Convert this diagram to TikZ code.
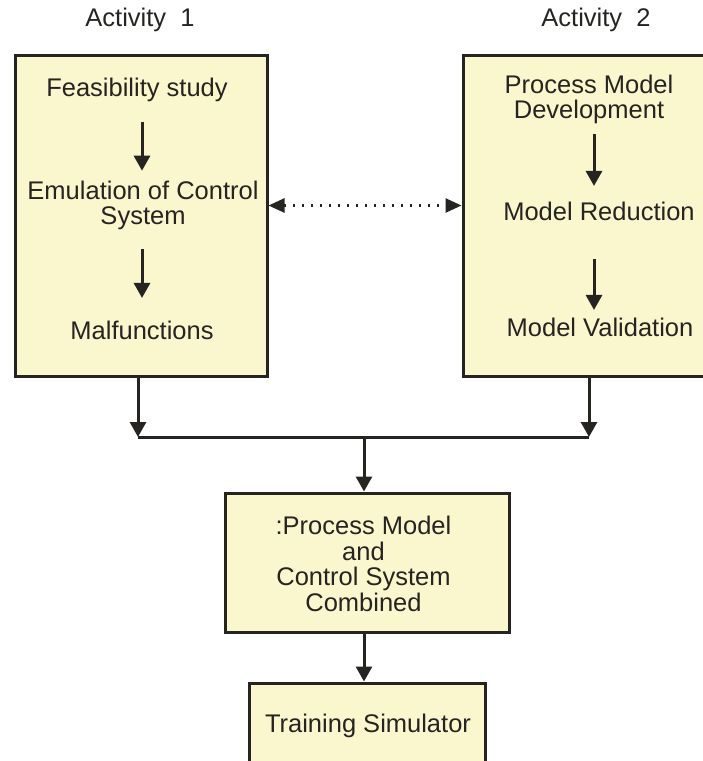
\documentclass[tikz,border=0pt]{standalone}
\usepackage{fontspec}
\setmainfont{Liberation Sans}
\usetikzlibrary{arrows.meta}
\definecolor{boxfill}{RGB}{250,246,206}
\definecolor{ink}{RGB}{38,36,32}
\tikzset{
  box/.style={draw=ink, line width=3pt, fill=boxfill, inner sep=0pt},
  txt/.style={font=\fontsize{25.5}{25.5}\selectfont, text=ink, align=center, inner sep=0pt},
  arr/.style={draw=ink, line width=3pt, -{Triangle[length=15pt,width=16pt]}},
  plain/.style={draw=ink, line width=3pt},
  dotarr/.style={draw=ink, line width=2.6pt, dash pattern=on 2.4pt off 6.6pt,
    {Triangle[length=16pt,width=14pt]}-{Triangle[length=16pt,width=14pt]}}
}
\begin{document}
\begin{tikzpicture}[x=1pt,y=-1pt]
  \useasboundingbox (0,0) rectangle (703,761);

  \node[txt] (Act1) at (140,20) {Activity\ \ 1};
  \node[txt] (Act2) at (596,20) {Activity\ \ 2};

  \node[box, minimum width=252pt, minimum height=321pt] (box1) at (141,215.5) {};
  \node[box, minimum width=257pt, minimum height=321pt] (box2) at (591.5,215.5) {};
  \node[box, minimum width=284pt, minimum height=139pt] (Comb) at (367,562.5) {};
  \node[box, minimum width=236pt, minimum height=107pt] (TS) at (367,736.5) {};

  \node[txt] (Feas) at (137,89.5) {Feasibility study};
  \node[txt] (Emu) at (143,205.5) {Emulation of Control\\System};
  \node[txt] (Malf) at (142,330.5) {Malfunctions};
  \node[txt] (PMD) at (589,99.5) {Process Model\\Development};
  \node[txt] (MR) at (599,211.5) {Model Reduction};
  \node[txt] (MV) at (600,327.5) {Model Validation};
  \node[txt] (CombTxt) at (363.5,564) {:Process Model\\and\\Control System\\Combined};
  \node[txt] (TSTxt) at (368,726) {Training Simulator};

  \coordinate (L) at (142,0);
  \coordinate (R) at (594,0);
  \coordinate (J1) at (138,437);
  \coordinate (J2) at (589,437);
  \coordinate (J3) at (364,437);

  \draw[arr, shorten <=20pt, shorten >=10pt] (Feas.south -| L) -- (Emu.north -| L);
  \draw[arr, shorten <=19pt, shorten >=23pt] (Emu.south -| L) -- (Malf.north -| L);
  \draw[arr, shorten <=10pt, shorten >=16pt] (PMD.south -| R) -- (MR.north -| R);
  \draw[arr, shorten <=38pt, shorten >=8pt] (MR.south -| R) -- (MV.north -| R);
  \draw[dotarr] (box1.east |- Emu) -- (box2.west |- Emu);

  \draw[arr] (box1.south -| J1) -- (J1);
  \draw[arr] (box2.south -| J2) -- (J2);
  \draw[plain] (J1) -- (J2);
  \draw[arr] (J3) -- (J3 |- Comb.north);
  \draw[arr] (Comb.south -| J3) -- (TS.north -| J3);
\end{tikzpicture}
\end{document}
